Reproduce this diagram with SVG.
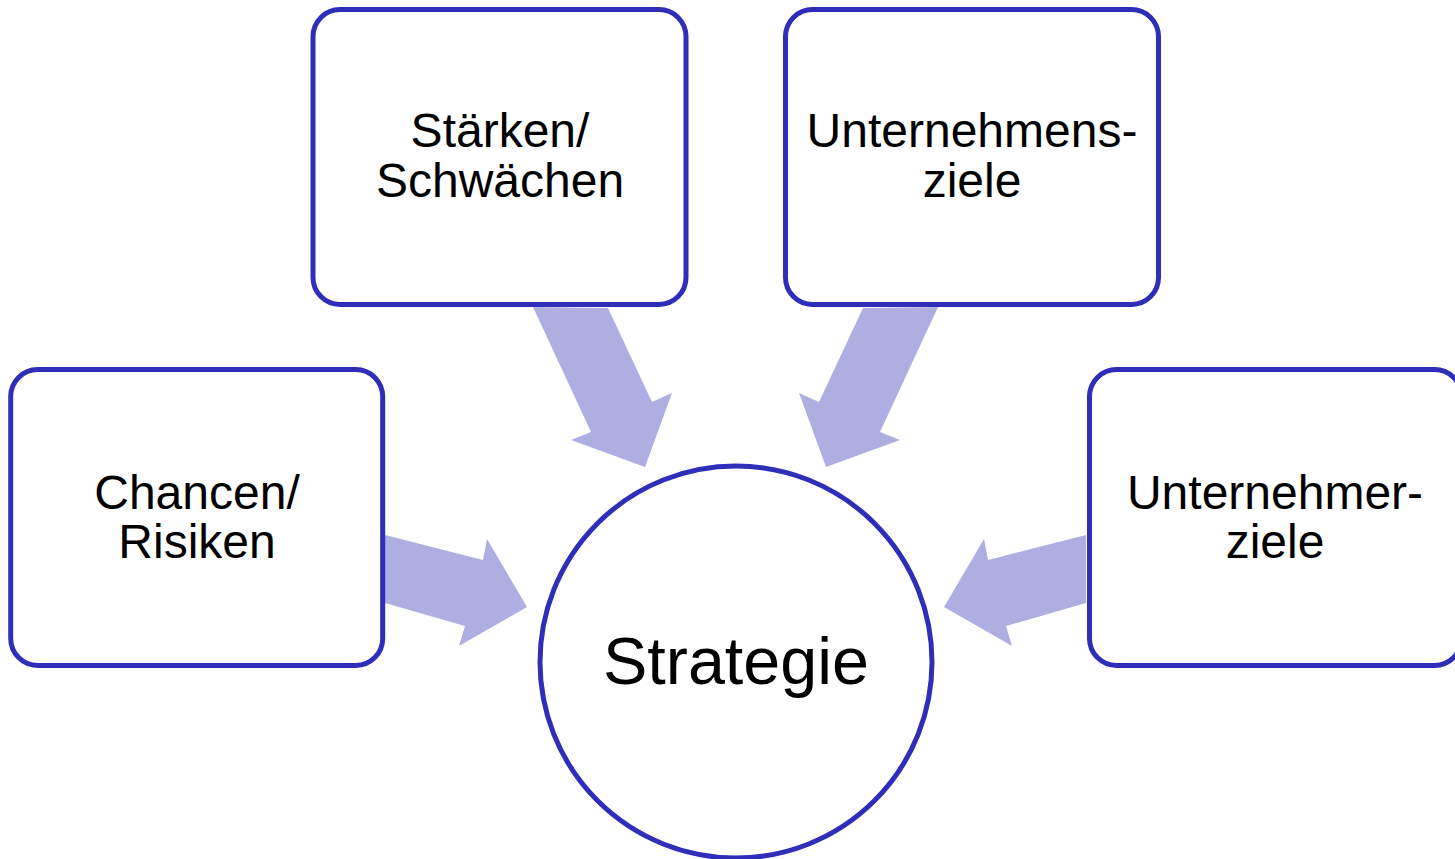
<svg xmlns="http://www.w3.org/2000/svg" width="1455" height="859" viewBox="0 0 1455 859">
<style>
.box{fill:#fff;stroke:#2E2EB8;stroke-width:5}
.arr{fill:#AEAEE0}
.t{font-family:"Liberation Sans",Arial,sans-serif;font-size:48px;fill:#000;text-anchor:middle}
.big{font-size:66.5px}
</style>
<rect width="1455" height="859" fill="#fff"/>
<g id="connectors">
<polygon class="arr" points="533,307 608,308 652,402 672,393 645,467 571,440 591,432"/>
<polygon class="arr" points="938,307 863,308 819,402 799,393 826,467 900,440 880,432"/>
<polygon class="arr" points="385,535 483,560 487,539 527,607 459,646 465,626 385,603"/>
<polygon class="arr" points="1086,535 988,560 984,539 944,607 1012,646 1006,626 1086,603"/>
</g>
<g id="staerken">
<rect class="box" x="313" y="9.5" width="373" height="295" rx="27"/>
<text class="t" x="500" y="147">Stärken/</text>
<text class="t" x="500" y="197">Schwächen</text>
</g>
<g id="unternehmensziele">
<rect class="box" x="785.5" y="9.5" width="373" height="295" rx="27"/>
<text class="t" x="972" y="147">Unternehmens-</text>
<text class="t" x="972" y="197">ziele</text>
</g>
<g id="chancen">
<rect class="box" x="10.7" y="369.5" width="372" height="296" rx="27"/>
<text class="t" x="197" y="509">Chancen/</text>
<text class="t" x="197" y="558">Risiken</text>
</g>
<g id="unternehmerziele">
<rect class="box" x="1089.5" y="369.5" width="372" height="296" rx="27"/>
<text class="t" x="1275" y="509">Unternehmer-</text>
<text class="t" x="1275" y="558">ziele</text>
</g>
<g id="strategie">
<circle class="box" cx="736" cy="662" r="196"/>
<text class="t big" x="736" y="684">Strategie</text>
</g>
</svg>
